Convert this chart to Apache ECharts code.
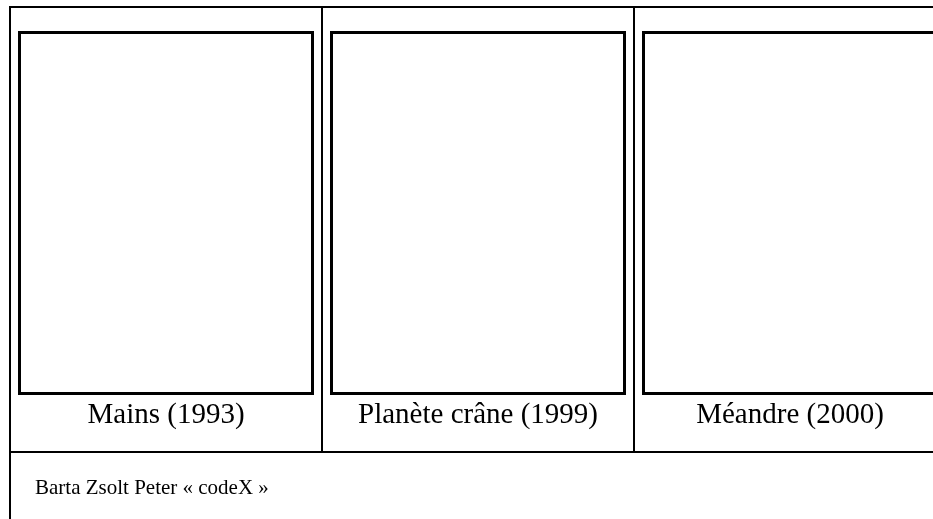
<!DOCTYPE html>
<html>
<head>
<meta charset="utf-8">
<script src="https://cdn.jsdelivr.net/npm/echarts@6/dist/echarts.min.js"></script>
<style>
html,body{margin:0;padding:0;background:#fff;overflow:hidden;}
#chart{width:960px;height:519px;}
</style>
</head>
<body>
<div id="chart"></div>
<script>
// Data
var captions = ['Mains (1993)', 'Planète crâne (1999)', 'Méandre (2000)'];
var footerText = 'Barta Zsolt Peter « codeX »';

// Layout constants
var FONT = '"Liberation Serif", "Times New Roman", serif';
var cellLeft0 = 11, cellW = 312;      // table cell geometry
var boxInset = 8.5, boxW = 293;       // image box (stroke centre)
var boxTop = 32.5, boxH = 361;
var captionSize = 29, footerSize = 21;

var chart = echarts.init(document.getElementById('chart'), null, {renderer: 'canvas'});

var grids = [], xAxes = [], yAxes = [];
captions.forEach(function (c, i) {
  grids.push({
    left: cellLeft0 + i * cellW + boxInset, top: boxTop, width: boxW, height: boxH,
    show: true, borderColor: '#000', borderWidth: 3, backgroundColor: '#fff',
    containLabel: false
  });
  xAxes.push({
    gridIndex: i, type: 'category', data: [''],
    axisLine: {show: false}, axisTick: {show: false}, axisLabel: {show: false}, splitLine: {show: false},
    name: c, nameLocation: 'middle', nameGap: 7,
    nameTextStyle: {fontFamily: FONT, fontSize: captionSize, color: '#000'}
  });
  yAxes.push({
    gridIndex: i, type: 'value', show: false
  });
});

var lineStyle = {stroke: '#000', lineWidth: 2};
var graphics = [
  {type: 'line', shape: {x1: 9, y1: 7, x2: 960, y2: 7}, style: lineStyle, silent: true},
  {type: 'line', shape: {x1: 10, y1: 6, x2: 10, y2: 519}, style: lineStyle, silent: true},
  {type: 'line', shape: {x1: 9, y1: 452, x2: 960, y2: 452}, style: lineStyle, silent: true},
  {type: 'line', shape: {x1: 322, y1: 6, x2: 322, y2: 452}, style: lineStyle, silent: true},
  {type: 'line', shape: {x1: 634, y1: 6, x2: 634, y2: 452}, style: lineStyle, silent: true},
  {type: 'line', shape: {x1: 946, y1: 6, x2: 946, y2: 519}, style: lineStyle, silent: true},
  {type: 'text', left: 35, top: 478,
   style: {text: footerText, font: footerSize + 'px ' + FONT, fill: '#000'}, silent: true}
];

chart.setOption({
  animation: false,
  backgroundColor: '#fff',
  grid: grids,
  xAxis: xAxes,
  yAxis: yAxes,
  series: captions.map(function (c, i) {
    return {type: 'bar', xAxisIndex: i, yAxisIndex: i, data: [], silent: true};
  }),
  graphic: graphics
});
</script>
</body>
</html>
